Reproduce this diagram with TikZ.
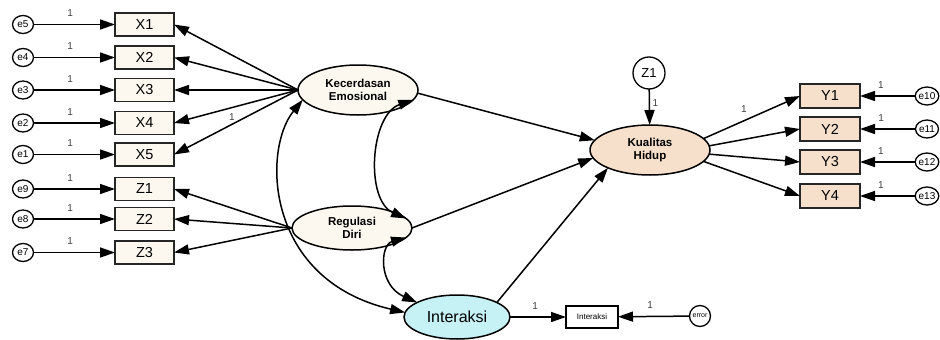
\documentclass[tikz,border=0pt]{standalone}
\usepackage{fontspec}
\setmainfont{Liberation Sans}
\usetikzlibrary{arrows.meta,shapes.geometric}
\definecolor{cream}{HTML}{FDF8EF}
\definecolor{peach}{HTML}{F6DFCB}
\definecolor{icyan}{HTML}{C6F2F6}
\begin{document}
\begin{tikzpicture}[x=1pt,y=-1pt,
  every node/.style={inner sep=0pt, outer sep=0pt},
  obs/.style={draw, line width=1.5pt, draw=black!85, fill=cream, minimum width=59pt, minimum height=23pt, font=\fontsize{14.5}{14.5}\selectfont},
  obsy/.style={obs, fill=peach},
  errl/.style={draw, ellipse, line width=1.3pt, fill=white, minimum width=21pt, minimum height=18pt, font=\fontsize{10}{10}\selectfont},
  errr/.style={errl, minimum width=23pt},
  lat/.style={draw, ellipse, line width=1.5pt, minimum width=120pt, minimum height=50pt, font=\bfseries\fontsize{11.5}{13.5}\selectfont, align=center},
  arr/.style={line width=1.5pt, -{Triangle[length=15pt,width=10pt]}},
  cov/.style={line width=1.5pt, {Triangle[length=15pt,width=10pt]}-{Triangle[length=15pt,width=10pt]}},
  one/.style={font=\fontsize{10}{10}\selectfont, text=black!75}
]
\useasboundingbox[fill=white] (0,0) rectangle (940,340);

% latent variables
\node[lat, fill=cream] (KE) at (358,90) {Kecerdasan\\Emosional};
\node[lat, fill=cream, minimum height=44pt] (RD) at (352,228) {Regulasi\\Diri};
\node[lat, fill=peach] (KH) at (650,150) {Kualitas\\Hidup};
\node[draw, ellipse, line width=1.5pt, fill=icyan, minimum width=106pt, minimum height=44pt, font=\fontsize{16}{16}\selectfont] (IN) at (457,317) {Interaksi};

% observed left
\foreach \n/\y in {X1/24.5,X2/57.5,X3/90,X4/123,X5/154.5,Z1/189,Z2/219,Z3/252.5}{
  \node[obs] (\n) at (144.5,\y) {\n};
}
\foreach \e/\n/\y in {e5/X1/24.5,e4/X2/57.5,e3/X3/90,e2/X4/123,e1/X5/154.5,e9/Z1/189,e8/Z2/219,e7/Z3/252.5}{
  \node[errl] (\e) at (23,\y) {\e};
  \draw[arr] (\e) -- node[one, pos=0.45, yshift=11pt] (l\e) {1} (\n);
}

% observed right
\foreach \n/\e/\y in {Y1/e10/96,Y2/e11/129,Y3/e12/162,Y4/e13/196}{
  \node[obsy, minimum width=60pt, minimum height=24pt] (\n) at (830,\y) {\n};
  \node[errr] (\e) at (927,\y) {\e};
  \draw[arr] (\e) -- node[one, pos=0.62, yshift=11pt] (l\e) {1} (\n);
}

% disturbance of Kualitas Hidup
\node[draw, circle, line width=1.3pt, fill=white, minimum size=32pt, font=\fontsize{13}{13}\selectfont] (Zd) at (649,73) {Z1};
\draw[arr] (Zd) -- node[one, pos=0.4, xshift=6pt] (lZd) {1} (KH);

% interaction indicator
\node[draw, line width=1.3pt, fill=white, minimum width=52pt, minimum height=22pt, font=\fontsize{8}{8}\selectfont] (IB) at (592,317) {Interaksi};
\node[draw, circle, line width=1.3pt, fill=white, minimum size=21pt, font=\fontsize{7}{7}\selectfont] (er) at (700,316) {error};
\draw[arr] (IN) -- node[one, pos=0.45, yshift=11pt] (lIN) {1} (IB);
\draw[arr] (er) -- node[one, pos=0.55, yshift=11pt] (ler) {1} (IB);

% loadings
\foreach \n in {X1,X2,X3,X4,X5}{ \draw[arr] (KE.west) -- (\n.east); }
\node[one] (lX4) at (232,117) {1};
\foreach \n in {Z1,Z2,Z3}{ \draw[arr] (RD.west) -- (\n.east); }
\draw[arr] (KH.12) -- node[one, pos=0.42, yshift=12pt] (lY1) {1} (Y1.west);
\draw[arr] (KH.4) -- (Y2.west);
\draw[arr] (KH.-4) -- (Y3.west);
\draw[arr] (KH.-12) -- (Y4.west);

% structural paths
\draw[arr] (KE.-3) -- (KH.170);
\draw[arr] (RD.east) -- (KH.188);
\draw[arr] (IN.20) -- (KH.203);

% covariances
\draw[cov] (KE.190) .. controls (262,150) and (265,280) .. (IN.175);
\draw[cov] (KE.-10) .. controls (370,115) and (365,200) .. (RD.10);
\draw[cov] (RD.-10) .. controls (380,245) and (378,285) .. (IN.160);
\end{tikzpicture}
\end{document}
